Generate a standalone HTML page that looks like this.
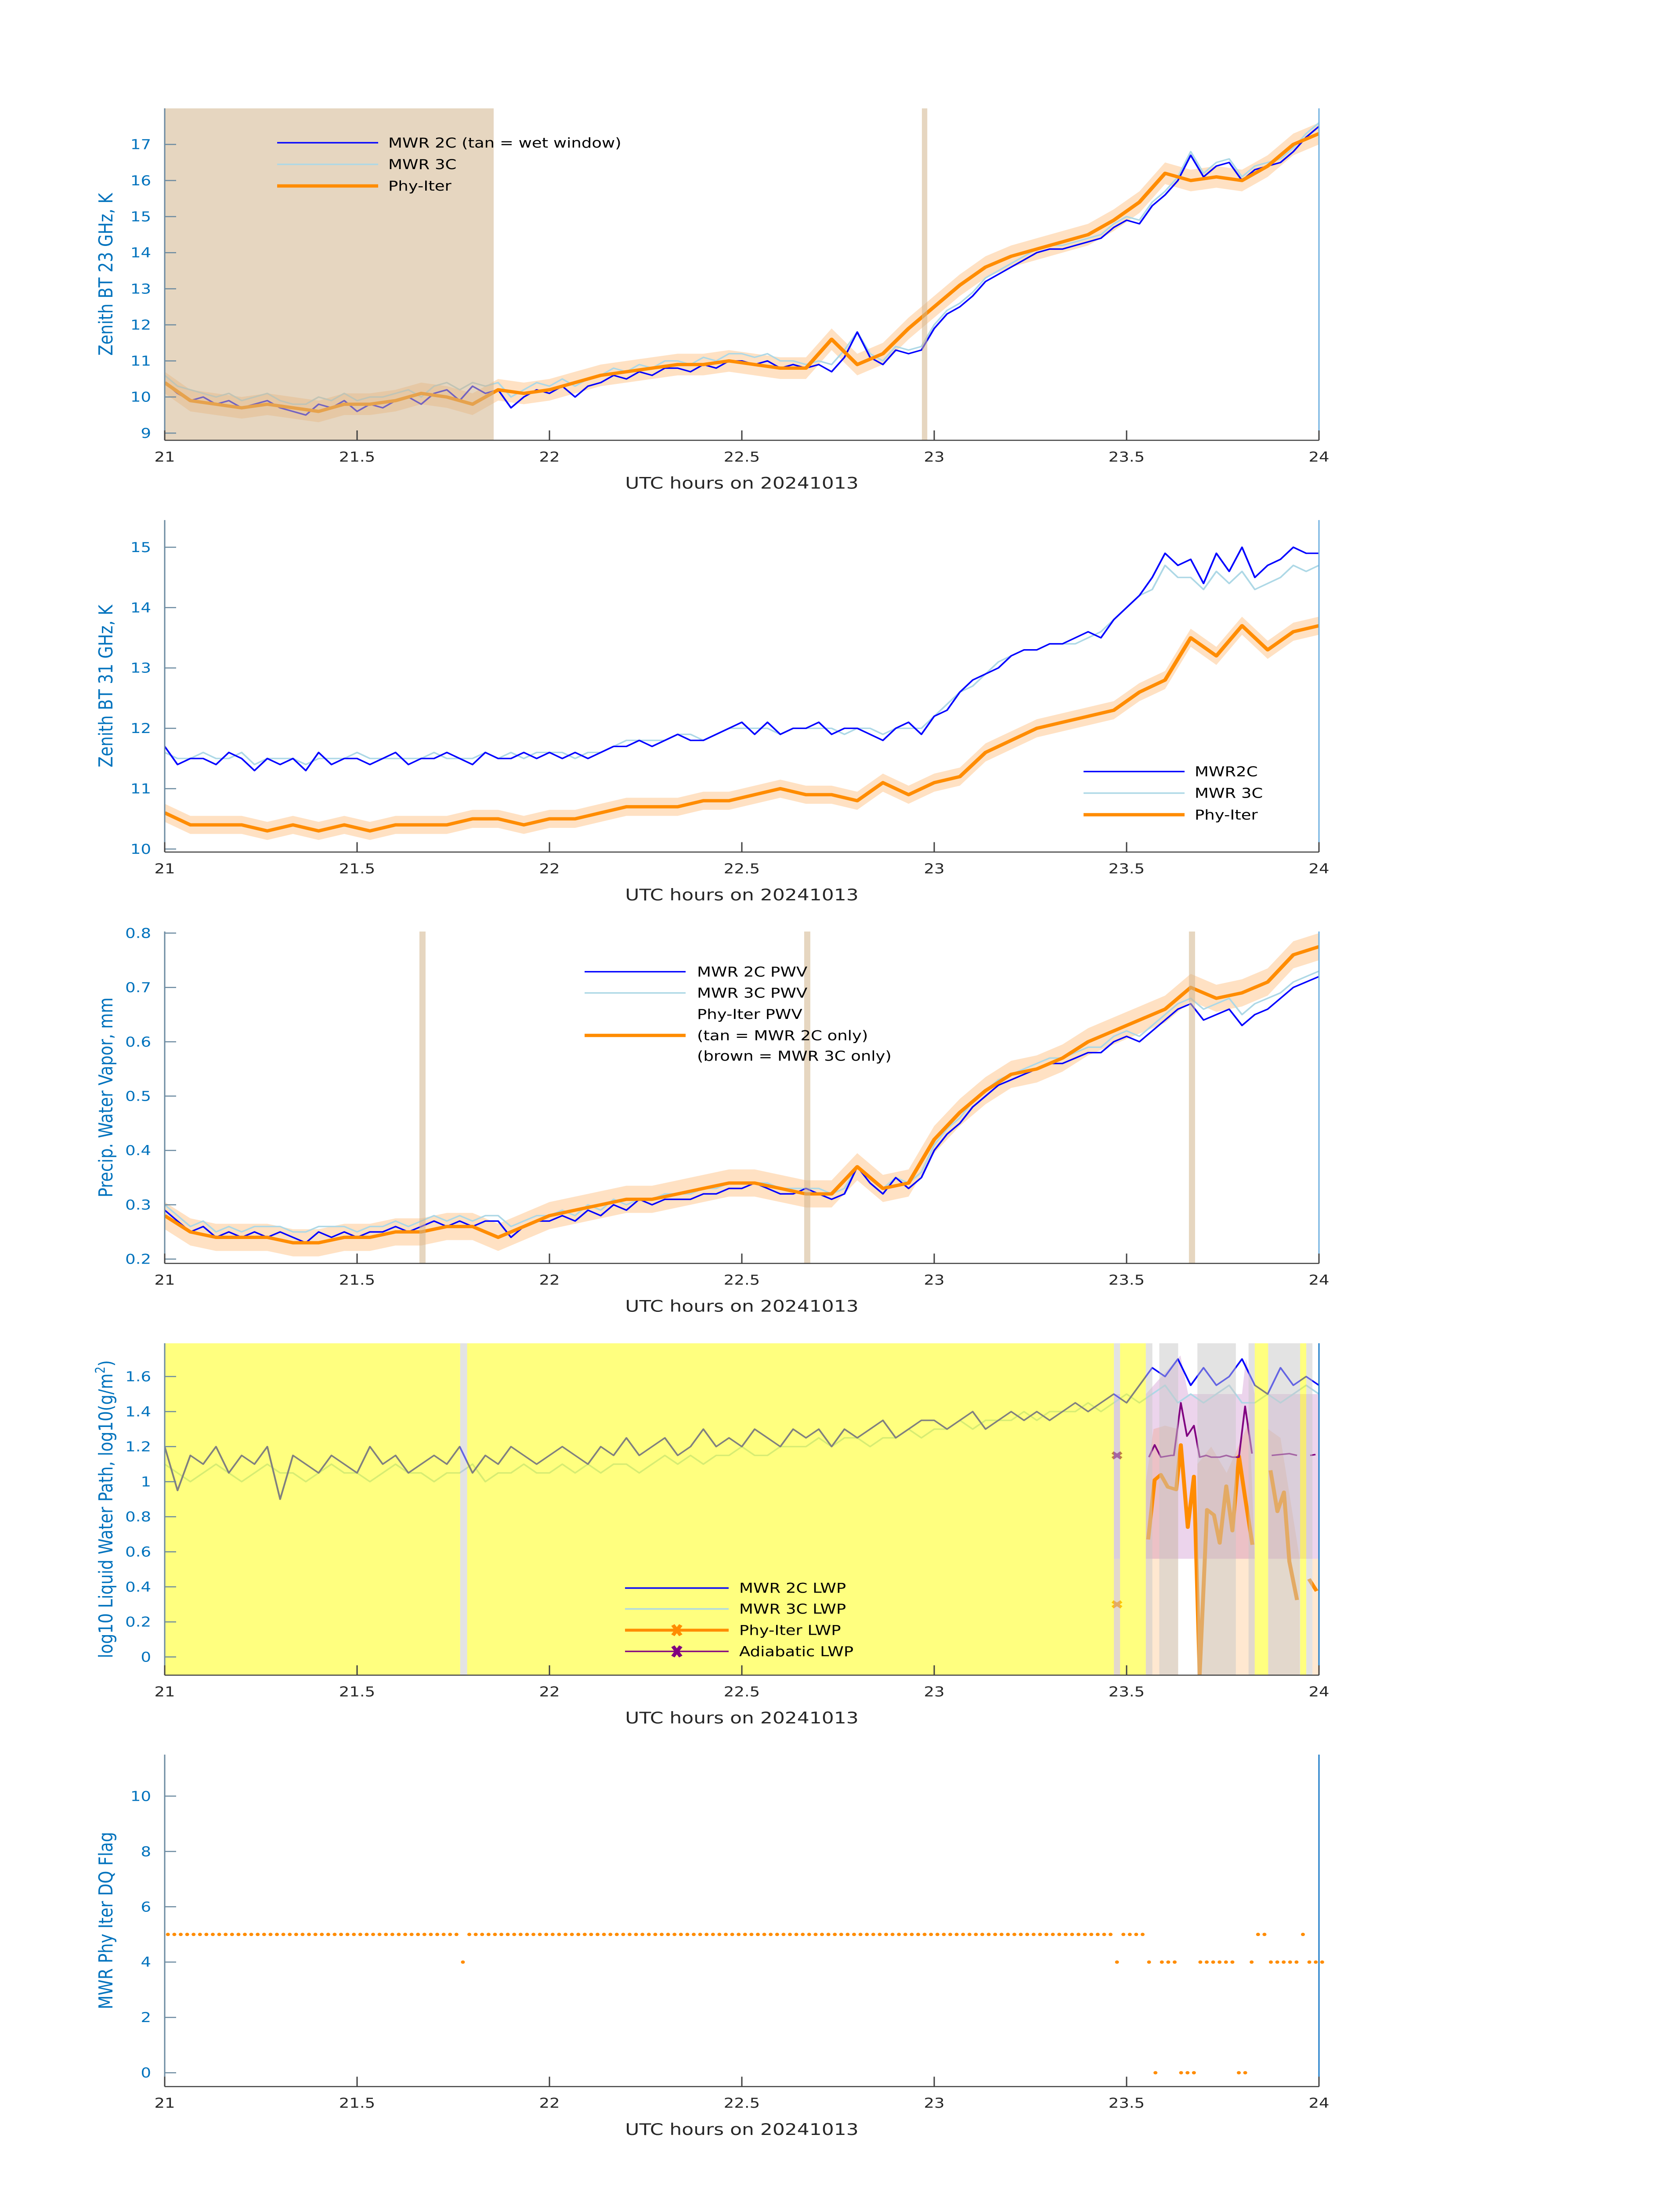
<!DOCTYPE html>
<html><head><meta charset="utf-8"><style>
html,body{margin:0;padding:0;background:#fff;overflow:hidden;width:100vw;height:100vh;}
svg{display:block;position:fixed;left:0;top:0;width:100vw;height:100vh;font-family:"DejaVu Sans","Liberation Sans",sans-serif;}
</style></head><body>
<svg id="chart" viewBox="0 0 3825 6000" preserveAspectRatio="none" xmlns="http://www.w3.org/2000/svg"></svg>
<script>
// ---------- DATA ----------
const xTicks = [21, 21.5, 22, 22.5, 23, 23.5, 24];
const xTickLabels = ["21","21.5","22","22.5","23","23.5","24"];
// panel 1: BT 23 GHz (2-min samples from 21.0 to 24.0)
const bt23_2c = [10.4,10.1,9.9,10.0,9.8,9.9,9.7,9.8,9.9,9.7,
9.6,9.5,9.8,9.7,9.9,9.6,9.8,9.7,9.9,10.0,
9.8,10.1,10.2,9.9,10.3,10.1,10.2,9.7,10.0,10.2,
10.1,10.3,10.0,10.3,10.4,10.6,10.5,10.7,10.6,10.8,
10.8,10.7,10.9,10.8,11.0,11.0,10.9,11.0,10.8,10.9,
10.8,10.9,10.7,11.1,11.8,11.1,10.9,11.3,11.2,11.3,
11.9,12.3,12.5,12.8,13.2,13.4,13.6,13.8,14.0,14.1,
14.1,14.2,14.3,14.4,14.7,14.9,14.8,15.3,15.6,16.0,
16.7,16.1,16.4,16.5,16.0,16.3,16.4,16.5,16.8,17.2,17.5];
const bt23_3c = [10.6,10.3,10.2,10.1,10.0,10.1,9.9,10.0,10.1,9.9,
9.8,9.8,10.0,9.9,10.1,9.9,10.0,10.0,10.1,10.2,
10.0,10.3,10.4,10.2,10.4,10.3,10.4,10.0,10.2,10.4,
10.3,10.5,10.3,10.5,10.6,10.8,10.7,10.9,10.8,11.0,
11.0,10.9,11.1,11.0,11.2,11.2,11.1,11.2,11.0,11.0,
10.9,11.0,10.9,11.3,11.8,11.2,11.0,11.4,11.3,11.4,
12.0,12.4,12.6,12.9,13.3,13.5,13.7,13.9,14.1,14.2,
14.2,14.3,14.4,14.5,14.8,15.0,14.9,15.4,15.7,16.1,
16.8,16.2,16.5,16.6,16.1,16.4,16.5,16.6,16.9,17.3,17.6];
// Phy-Iter: 4-min samples
const bt23_phy = [10.4,9.9,9.8,9.7,9.8,9.7,9.6,9.8,9.8,9.9,
10.1,10.0,9.8,10.2,10.1,10.2,10.4,10.6,10.7,10.8,
10.9,10.9,11.0,10.9,10.8,10.8,11.6,10.9,11.2,11.9,
12.5,13.1,13.6,13.9,14.1,14.3,14.5,14.9,15.4,16.2,
16.0,16.1,16.0,16.4,17.0,17.3];
const bt23_wet = [[21.0,21.855],[22.968,22.982]];
// panel 2: BT 31 GHz
const bt31_2c = [11.7,11.4,11.5,11.5,11.4,11.6,11.5,11.3,11.5,11.4,
11.5,11.3,11.6,11.4,11.5,11.5,11.4,11.5,11.6,11.4,
11.5,11.5,11.6,11.5,11.4,11.6,11.5,11.5,11.6,11.5,
11.6,11.5,11.6,11.5,11.6,11.7,11.7,11.8,11.7,11.8,
11.9,11.8,11.8,11.9,12.0,12.1,11.9,12.1,11.9,12.0,
12.0,12.1,11.9,12.0,12.0,11.9,11.8,12.0,12.1,11.9,
12.2,12.3,12.6,12.8,12.9,13.0,13.2,13.3,13.3,13.4,
13.4,13.5,13.6,13.5,13.8,14.0,14.2,14.5,14.9,14.7,
14.8,14.4,14.9,14.6,15.0,14.5,14.7,14.8,15.0,14.9,14.9];
const bt31_3c = [11.6,11.5,11.5,11.6,11.5,11.5,11.6,11.4,11.5,11.5,
11.5,11.4,11.5,11.5,11.5,11.6,11.5,11.5,11.5,11.5,
11.5,11.6,11.5,11.5,11.5,11.6,11.5,11.6,11.5,11.6,
11.6,11.6,11.5,11.6,11.6,11.7,11.8,11.8,11.8,11.8,
11.9,11.9,11.8,11.9,12.0,12.0,12.0,12.0,11.9,12.0,
12.0,12.0,12.0,11.9,12.0,12.0,11.9,12.0,12.0,12.0,
12.2,12.4,12.6,12.7,12.9,13.1,13.2,13.3,13.3,13.4,
13.4,13.4,13.5,13.6,13.8,14.0,14.2,14.3,14.7,14.5,
14.5,14.3,14.6,14.4,14.6,14.3,14.4,14.5,14.7,14.6,14.7];
const bt31_phy = [10.6,10.4,10.4,10.4,10.3,10.4,10.3,10.4,10.3,10.4,
10.4,10.4,10.5,10.5,10.4,10.5,10.5,10.6,10.7,10.7,
10.7,10.8,10.8,10.9,11.0,10.9,10.9,10.8,11.1,10.9,
11.1,11.2,11.6,11.8,12.0,12.1,12.2,12.3,12.6,12.8,
13.5,13.2,13.7,13.3,13.6,13.7];
// panel 3: PWV
const pwv_2c = [0.29,0.27,0.25,0.26,0.24,0.25,0.24,0.25,0.24,0.25,
0.24,0.23,0.25,0.24,0.25,0.24,0.25,0.25,0.26,0.25,
0.26,0.27,0.26,0.27,0.26,0.27,0.27,0.24,0.26,0.27,
0.27,0.28,0.27,0.29,0.28,0.30,0.29,0.31,0.30,0.31,
0.31,0.31,0.32,0.32,0.33,0.33,0.34,0.33,0.32,0.32,
0.33,0.32,0.31,0.32,0.37,0.34,0.32,0.35,0.33,0.35,
0.40,0.43,0.45,0.48,0.50,0.52,0.53,0.54,0.55,0.56,
0.56,0.57,0.58,0.58,0.60,0.61,0.60,0.62,0.64,0.66,
0.67,0.64,0.65,0.66,0.63,0.65,0.66,0.68,0.70,0.71,0.72];
const pwv_3c = [0.30,0.28,0.26,0.27,0.25,0.26,0.25,0.26,0.26,0.26,
0.25,0.25,0.26,0.26,0.26,0.25,0.26,0.26,0.27,0.26,
0.27,0.28,0.27,0.28,0.27,0.28,0.28,0.26,0.27,0.28,
0.28,0.29,0.28,0.30,0.29,0.31,0.30,0.31,0.31,0.32,
0.32,0.32,0.33,0.33,0.34,0.34,0.34,0.34,0.33,0.33,
0.33,0.33,0.32,0.33,0.37,0.35,0.33,0.35,0.34,0.36,
0.41,0.44,0.46,0.49,0.51,0.53,0.54,0.55,0.56,0.57,
0.57,0.58,0.59,0.59,0.61,0.62,0.61,0.63,0.65,0.67,
0.68,0.66,0.67,0.68,0.65,0.67,0.68,0.69,0.71,0.72,0.73];
const pwv_phy = [0.28,0.25,0.24,0.24,0.24,0.23,0.23,0.24,0.24,0.25,
0.25,0.26,0.26,0.24,0.26,0.28,0.29,0.30,0.31,0.31,
0.32,0.33,0.34,0.34,0.33,0.32,0.32,0.37,0.33,0.34,
0.42,0.47,0.51,0.54,0.55,0.57,0.60,0.62,0.64,0.66,
0.70,0.68,0.69,0.71,0.76,0.775];
const pwv_tan = [[21.662,21.678],[22.662,22.678],[23.662,23.678]];
// panel 4: log10 LWP
const lwp_2c = [1.20,0.95,1.15,1.10,1.20,1.05,1.15,1.10,1.20,0.90,
1.15,1.10,1.05,1.15,1.10,1.05,1.20,1.10,1.15,1.05,
1.10,1.15,1.10,1.20,1.05,1.15,1.10,1.20,1.15,1.10,
1.15,1.20,1.15,1.10,1.20,1.15,1.25,1.15,1.20,1.25,
1.15,1.20,1.30,1.20,1.25,1.20,1.30,1.25,1.20,1.30,
1.25,1.30,1.20,1.30,1.25,1.30,1.35,1.25,1.30,1.35,
1.35,1.30,1.35,1.40,1.30,1.35,1.40,1.35,1.40,1.35,
1.40,1.45,1.40,1.45,1.50,1.45,1.55,1.65,1.60,1.70,
1.55,1.65,1.55,1.60,1.70,1.55,1.50,1.65,1.55,1.60,1.55];
const lwp_3c = [1.10,1.05,1.00,1.05,1.10,1.05,1.00,1.05,1.10,1.05,
1.05,1.00,1.05,1.10,1.05,1.05,1.00,1.05,1.10,1.05,
1.05,1.00,1.05,1.05,1.10,1.00,1.05,1.05,1.10,1.05,
1.05,1.10,1.05,1.10,1.05,1.10,1.10,1.05,1.10,1.15,
1.10,1.15,1.10,1.15,1.15,1.20,1.15,1.15,1.20,1.20,
1.20,1.25,1.20,1.25,1.25,1.20,1.25,1.25,1.30,1.25,
1.30,1.30,1.35,1.30,1.35,1.35,1.35,1.40,1.35,1.40,
1.40,1.40,1.45,1.40,1.45,1.50,1.45,1.50,1.55,1.45,
1.50,1.45,1.50,1.55,1.45,1.45,1.50,1.45,1.50,1.55,1.50];
const lwpPhyTime = [23.556,23.573,23.589,23.607,23.629,23.641,23.659,23.675,23.69,23.709,23.727,23.742,23.759,23.775,23.792,23.808,23.827,null,23.874,23.892,23.909,23.923,23.943,null,23.974,23.994];
const lwpPhyVal  = [0.67,1.01,1.04,0.97,0.955,1.21,0.74,1.03,-0.1,0.84,0.81,0.65,0.975,0.72,1.145,0.91,0.64,null,1.065,0.83,0.94,0.545,0.325,null,0.445,0.376];
const lwpAdiTime = [23.558,23.573,23.589,23.616,23.623,23.641,23.657,23.675,23.69,23.707,23.72,23.742,23.759,23.775,23.792,23.808,23.826,null,23.877,23.923,23.943,null,23.977,23.991];
const lwpAdiVal  = [1.14,1.21,1.14,1.15,1.15,1.45,1.26,1.32,1.14,1.15,1.14,1.14,1.15,1.14,1.14,1.43,1.16,null,1.15,1.16,1.15,null,1.15,1.155];
const lwpMarkTime = [23.475];
const lwpMarkPhy = [0.30];
const lwpMarkAdi = [1.15];
const lwpYellow = [[21.0,21.768],[21.786,23.467],[23.483,23.55],[23.833,23.868],[23.951,23.967]];
const lwpGray = [[21.768,21.786],[23.467,23.483],[23.55,23.567],[23.585,23.634],[23.684,23.784],[23.817,23.833],[23.868,23.951],[23.967,23.983]];
const adiBandTime = [[23.467,23.483],[23.55,23.64,23.66,23.8,23.81,23.833],[23.868,24.0]];
const adiBandTop = [[1.50,1.50],[1.50,1.72,1.50,1.50,1.70,1.50],[1.50,1.50]];
const adiBandBot = [[0.56,0.56],[0.56,0.56,0.56,0.56,0.56,0.56],[0.56,0.56]];
const phyBandTime = [[23.467,23.483],[23.55,23.57,23.6,23.634],[23.684,23.72,23.76,23.78,23.82,23.833],[23.868,23.9,23.95],[23.983,24.0]];
const phyBandTop = [[0.56,0.56],[1.0,1.3,1.32,1.30],[1.1,1.2,1.05,1.15,1.35,0.56],[1.3,1.25,0.56],[0.56,0.56]];
// panel 5: DQ flag per minute (0..179); '-' = missing
const dqFlagStr = "5555555555555555555555555555555555555555555555" + "4" +
"55555555555555555555555555555555555555555555555555555555555555555555555555555555555555555555555555" +
"555" + "4555540444000444444004554444454" + "44";
// ---------- HELPERS ----------
const NS = 'http://www.w3.org/2000/svg';
const svg = document.getElementById('chart');
const X0 = 375, X1 = 3003;
function X(t){ return X0 + (t - 21) * (X1 - X0) / 3; }
const panelTop = [296, 1421, 2545, 3670, 4794];
const PH = 907;
const yRanges = [[8.8,18.0],[9.95,15.45],[0.192,0.803],[-0.104,1.79],[-0.5,11.5]];
function Y(p, v){ const r = yRanges[p]; return panelTop[p] + PH - (v - r[0]) / (r[1] - r[0]) * PH; }
function el(tag, attrs, name, parent){
  const e = document.createElementNS(NS, tag);
  for (const k in attrs) e.setAttribute(k, attrs[k]);
  
  
  (parent || svg).appendChild(e);
  return e;
}
function tSeries(n){ const a=[]; for(let i=0;i<n;i++) a.push(21 + 3*i/(n-1)); return a; }
function pathFrom(p, times, vals){
  let d='', pen=false;
  for (let i=0;i<times.length;i++){
    if (times[i]===null || vals[i]===null){ pen=false; continue; }
    d += (pen?'L':'M') + X(times[i]).toFixed(1) + ' ' + Y(p, vals[i]).toFixed(1) + ' ';
    pen=true;
  }
  return d;
}
function bandFrom(p, times, lo, hi){
  let d='M';
  for (let i=0;i<times.length;i++) d += X(times[i]).toFixed(1)+' '+Y(p,hi[i]).toFixed(1)+' L';
  for (let i=times.length-1;i>=0;i--) d += X(times[i]).toFixed(1)+' '+Y(p,lo[i]).toFixed(1)+(i?' L':' Z');
  return d;
}
function line(p, times, vals, color, w, name, g, op){
  const e = el('path', {d: pathFrom(p, times, vals), fill:'none', stroke:color, 'stroke-width':w, 'stroke-linejoin':'round', opacity: op||1}, name, g);
  return e;
}
function band(p, times, vals, half, name, g){
  const lo = vals.map(v=>v-half), hi = vals.map(v=>v+half);
  return el('path', {d: bandFrom(p, times, lo, hi), fill:'#ffdcb8', opacity:0.85}, name, g);
}
function vspans(p, spans, color, name, g){
  spans.forEach(s=>{
    el('rect', {x:X(s[0]), y:panelTop[p], width:X(s[1])-X(s[0]), height:PH, fill:color}, name, g);
  });
}
function axes(p, yTicks, yLabels, ylabel, rightColor){
  const g = el('g', {}, 'panel-'+(p+1)+'-axes');
  const top = panelTop[p], bot = top + PH;
  el('line', {x1:X0, y1:top, x2:X0, y2:bot, stroke:'#6b8aa0', 'stroke-width':3}, 'y-axis-line', g);
  el('line', {x1:X1, y1:top, x2:X1, y2:bot, stroke:rightColor, 'stroke-width':3}, 'right-axis-line', g);
  el('line', {x1:X0, y1:bot, x2:X1, y2:bot, stroke:'#404040', 'stroke-width':3}, 'x-axis-line', g);
  yTicks.forEach((v,i)=>{
    const y = Y(p,v);
    el('line', {x1:X0, y1:y, x2:X0+26, y2:y, stroke:'#6b8aa0', 'stroke-width':3}, 'y-tick', g);
    const t = el('text', {x:344, y:y+13, 'text-anchor':'end', 'font-size':37, fill:'#0072BD'}, 'y-tick-label', g);
    t.textContent = yLabels[i];
  });
  xTicks.forEach((v,i)=>{
    const x = X(v);
    el('line', {x1:x, y1:bot, x2:x, y2:bot-27, stroke:'#404040', 'stroke-width':3}, 'x-tick', g);
    const t = el('text', {x:x, y:bot+58, 'text-anchor':'middle', 'font-size':37, fill:'#262626'}, 'x-tick-label', g);
    t.textContent = xTickLabels[i];
  });
  const xl = el('text', {x:(X0+X1)/2, y:bot+132, 'text-anchor':'middle', 'font-size':44, fill:'#262626'}, 'x-axis-title', g);
  xl.textContent = 'UTC hours on 20241013';
  const cy = top + PH/2;
  const yl = el('text', {x:256, y:cy, 'text-anchor':'middle', 'font-size':44, fill:'#0072BD', transform:'rotate(-90 256 '+cy+')'}, 'y-axis-title', g);
  if (typeof ylabel === 'string') yl.textContent = ylabel;
  else { ylabel(yl); }
}
function legendEntry(g, x1, x2, y, color, w, label, tx, marker){
  el('line', {x1:x1, y1:y, x2:x2, y2:y, stroke:color, 'stroke-width':w}, 'legend-line', g);
  if (marker){
    const mx=(x1+x2)/2;
    el('path', {d:'M'+(mx-9)+' '+(y-14)+'L'+(mx+9)+' '+(y+14)+'M'+(mx+9)+' '+(y-14)+'L'+(mx-9)+' '+(y+14), stroke:color, 'stroke-width':9}, 'legend-marker', g);
  }
  if (label!==null){
    const t = el('text', {x:tx, y:y+13, 'font-size':37, fill:'#000'}, 'legend-label', g);
    t.textContent = label;
  }
}
function clip(p, id){
  const cp = el('clipPath', {id:id}, 'clip-'+id);
  el('rect', {x:X0, y:panelTop[p], width:X1-X0, height:PH}, 'clip-rect', cp);
}
const t2 = tSeries(91), t4 = tSeries(46);

// ---------- PANEL 1 ----------
clip(0,'c0');
const g0 = el('g', {'clip-path':'url(#c0)'}, 'panel-1-plot');
band(0, t4, bt23_phy, 0.3, 'phy-iter-uncertainty-band', g0);
line(0, t2, bt23_3c, '#add8e6', 4, 'mwr-3c-line', g0);
line(0, t2, bt23_2c, '#0000ff', 4, 'mwr-2c-line', g0);
line(0, t4, bt23_phy, '#ff8c00', 9, 'phy-iter-line', g0);
vspans(0, bt23_wet, 'rgba(210,180,140,0.55)', 'wet-window-span', g0);
axes(0, [9,10,11,12,13,14,15,16,17], ['9','10','11','12','13','14','15','16','17'], 'Zenith BT 23 GHz, K', '#6fb0e0');
const lg0 = el('g', {}, 'panel-1-legend');
legendEntry(lg0, 631, 861, 390, '#0000ff', 4, 'MWR 2C (tan = wet window)', 884);
legendEntry(lg0, 631, 861, 449, '#add8e6', 4, 'MWR 3C', 884);
legendEntry(lg0, 631, 861, 508, '#ff8c00', 9, 'Phy-Iter', 884);

// ---------- PANEL 2 ----------
clip(1,'c1');
const g1 = el('g', {'clip-path':'url(#c1)'}, 'panel-2-plot');
band(1, t4, bt31_phy, 0.15, 'phy-iter-uncertainty-band', g1);
line(1, t2, bt31_3c, '#add8e6', 4, 'mwr-3c-line', g1);
line(1, t2, bt31_2c, '#0000ff', 4, 'mwr-2c-line', g1);
line(1, t4, bt31_phy, '#ff8c00', 9, 'phy-iter-line', g1);
axes(1, [10,11,12,13,14,15], ['10','11','12','13','14','15'], 'Zenith BT 31 GHz, K', '#6fb0e0');
const lg1 = el('g', {}, 'panel-2-legend');
legendEntry(lg1, 2467, 2697, 2108, '#0000ff', 4, 'MWR2C', 2720);
legendEntry(lg1, 2467, 2697, 2167, '#add8e6', 4, 'MWR 3C', 2720);
legendEntry(lg1, 2467, 2697, 2226, '#ff8c00', 9, 'Phy-Iter', 2720);

// ---------- PANEL 3 ----------
clip(2,'c2');
const g2 = el('g', {'clip-path':'url(#c2)'}, 'panel-3-plot');
band(2, t4, pwv_phy, 0.025, 'phy-iter-uncertainty-band', g2);
line(2, t2, pwv_3c, '#add8e6', 4, 'mwr-3c-pwv-line', g2);
line(2, t2, pwv_2c, '#0000ff', 4, 'mwr-2c-pwv-line', g2);
line(2, t4, pwv_phy, '#ff8c00', 9, 'phy-iter-pwv-line', g2);
vspans(2, pwv_tan, 'rgba(210,180,140,0.55)', 'mwr-2c-only-span', g2);
axes(2, [0.2,0.3,0.4,0.5,0.6,0.7,0.8], ['0.2','0.3','0.4','0.5','0.6','0.7','0.8'], 'Precip. Water Vapor, mm', '#6fb0e0');
const lg2 = el('g', {}, 'panel-3-legend');
legendEntry(lg2, 1331, 1561, 2655, '#0000ff', 4, 'MWR 2C PWV', 1587);
legendEntry(lg2, 1331, 1561, 2713, '#add8e6', 4, 'MWR 3C PWV', 1587);
legendEntry(lg2, 1331, 1561, 2829, '#ff8c00', 9, null, 1587);
[['Phy-Iter PWV',2771],['(tan = MWR 2C only)',2829],['(brown = MWR 3C only)',2885]].forEach(r=>{
  const t = el('text', {x:1587, y:r[1]+13, 'font-size':37, fill:'#000'}, 'legend-label', lg2);
  t.textContent = r[0];
});

// ---------- PANEL 4 ----------
clip(3,'c3');
const g3 = el('g', {'clip-path':'url(#c3)'}, 'panel-4-plot');
phyBandTime.forEach((tt,i)=>{
  el('path', {d: bandFrom(3, tt, tt.map(()=>-0.2), phyBandTop[i]), fill:'rgba(255,190,120,0.35)'}, 'phy-iter-lwp-band', g3);
});
adiBandTime.forEach((tt,i)=>{
  el('path', {d: bandFrom(3, tt, adiBandBot[i], adiBandTop[i]), fill:'rgba(160,40,160,0.2)'}, 'adiabatic-lwp-band', g3);
});
line(3, t2, lwp_3c, '#add8e6', 4, 'mwr-3c-lwp-line', g3);
line(3, t2, lwp_2c, '#0000ff', 4, 'mwr-2c-lwp-line', g3);
line(3, lwpPhyTime, lwpPhyVal, '#ff8c00', 9, 'phy-iter-lwp-line', g3);
line(3, lwpAdiTime, lwpAdiVal, '#800080', 4, 'adiabatic-lwp-line', g3);
lwpMarkTime.forEach((t,i)=>{
  const mx=X(t);
  [[lwpMarkPhy[i],'#ff8c00'],[lwpMarkAdi[i],'#800080']].forEach(m=>{
    const my=Y(3,m[0]);
    el('path', {d:'M'+(mx-10)+' '+(my-8)+'L'+(mx+10)+' '+(my+8)+'M'+(mx+10)+' '+(my-8)+'L'+(mx-10)+' '+(my+8), stroke:m[1], 'stroke-width':8}, 'lwp-marker', g3);
  });
});
vspans(3, lwpYellow, 'rgba(255,255,0,0.5)', 'yellow-flag-span', g3);
vspans(3, lwpGray, 'rgba(200,200,200,0.5)', 'gray-flag-span', g3);
axes(3, [0,0.2,0.4,0.6,0.8,1,1.2,1.4,1.6], ['0','0.2','0.4','0.6','0.8','1','1.2','1.4','1.6'], function(t){
  t.textContent = 'log10 Liquid Water Path, log10(g/m';
  const s = document.createElementNS(NS,'tspan');
  s.setAttribute('baseline-shift','super'); s.setAttribute('font-size','30');
  
  
  s.textContent='2'; t.appendChild(s);
  const c = document.createElementNS(NS,'tspan');
  
  
  c.textContent=')'; t.appendChild(c);
}, '#1a7ac8');
const lg3 = el('g', {}, 'panel-4-legend');
legendEntry(lg3, 1423, 1659, 4339, '#0000ff', 4, 'MWR 2C LWP', 1683);
legendEntry(lg3, 1423, 1659, 4396, '#add8e6', 4, 'MWR 3C LWP', 1683);
legendEntry(lg3, 1423, 1659, 4454, '#ff8c00', 8, 'Phy-Iter LWP', 1683, true);
legendEntry(lg3, 1423, 1659, 4512, '#800080', 4, 'Adiabatic LWP', 1683, true);

// ---------- PANEL 5 ----------
const g4 = el('g', {}, 'panel-5-plot');
for (let m=0;m<dqFlagStr.length;m++){
  const ch = dqFlagStr[m];
  if (ch==='-') continue;
  const dot = document.createElementNS(NS,'circle');
  dot.setAttribute('cx', X(21 + (m+0.5)/60).toFixed(1));
  dot.setAttribute('cy', Y(4, +ch).toFixed(1));
  dot.setAttribute('r', 4.5);
  dot.setAttribute('fill', '#ff8c00');
  
  
  g4.appendChild(dot);
}
axes(4, [0,2,4,6,8,10], ['0','2','4','6','8','10'], 'MWR Phy Iter DQ Flag', '#1a7ac8');
</script>
</body></html>
